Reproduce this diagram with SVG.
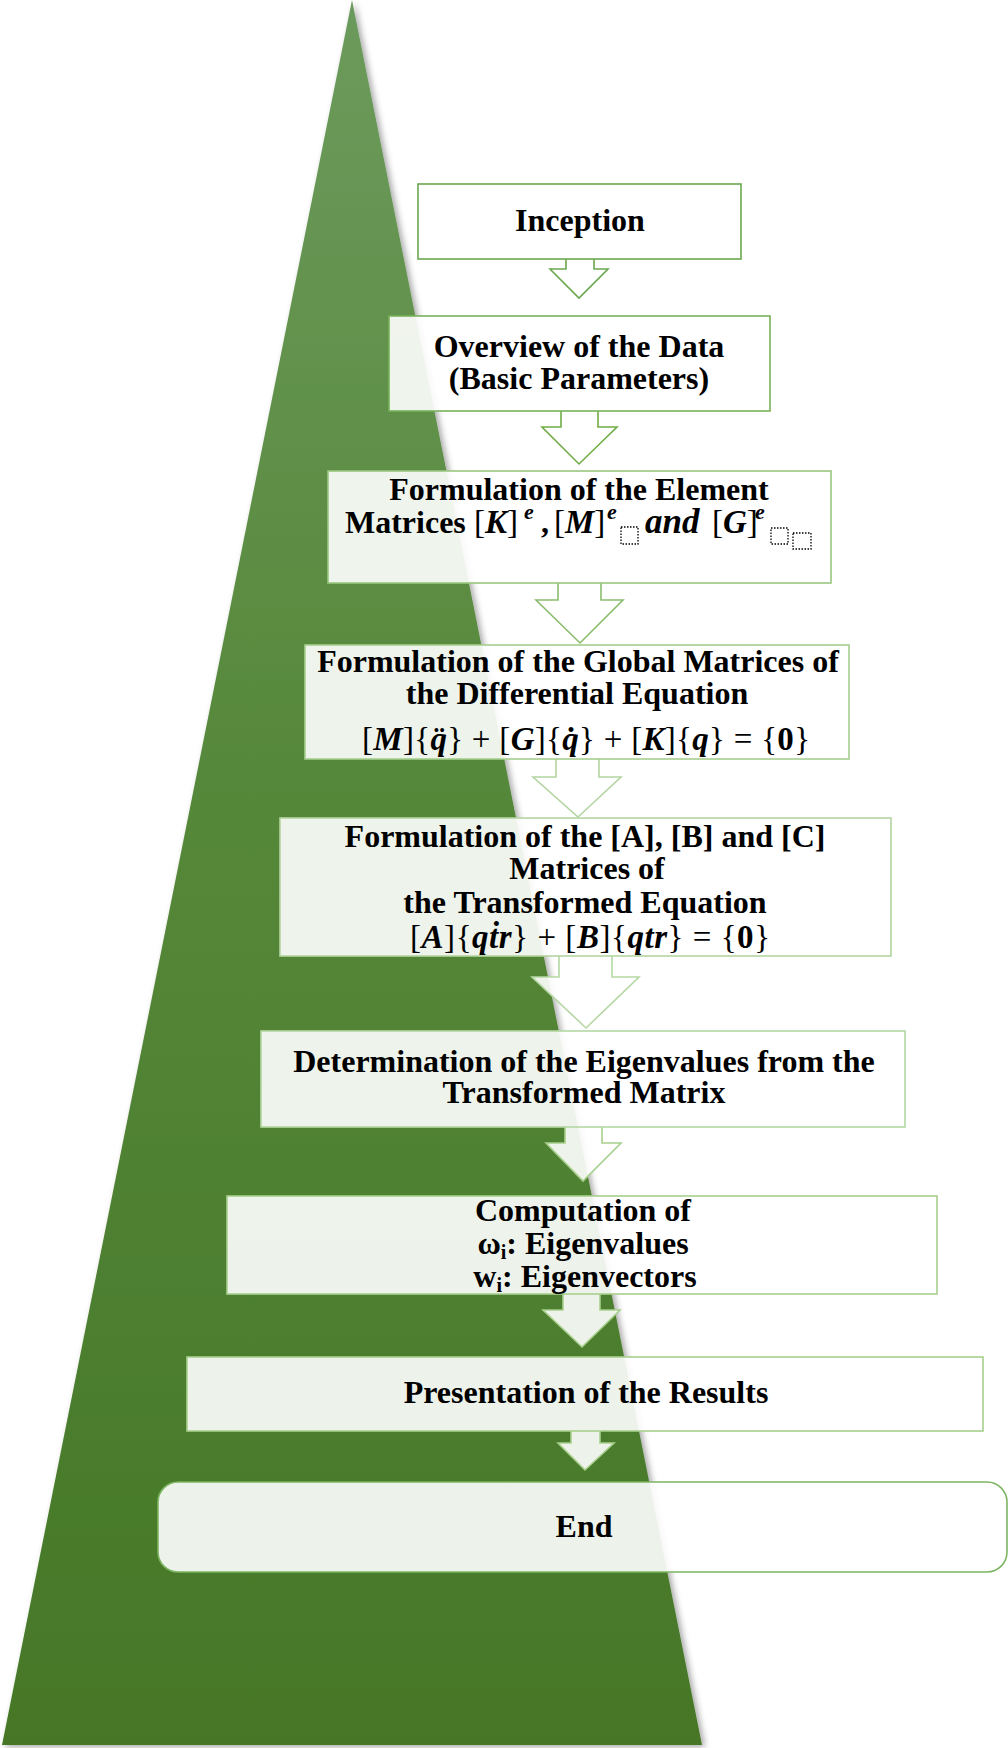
<svg xmlns="http://www.w3.org/2000/svg" width="1008" height="1748" viewBox="0 0 1008 1748">
<defs>
<linearGradient id="tg" x1="0" y1="0" x2="0" y2="1">
<stop offset="0" stop-color="#6c9a5c"/>
<stop offset="0.45" stop-color="#56883a"/>
<stop offset="1" stop-color="#467727"/>
</linearGradient>
<filter id="sh" x="-10%" y="-5%" width="120%" height="110%">
<feDropShadow dx="3" dy="2" stdDeviation="3" flood-color="#000" flood-opacity="0.35"/>
</filter>
<style>
.box{fill:#fff;fill-opacity:0.9;stroke-width:1.6}
.arr{fill:#fff;fill-opacity:0.9;stroke-width:1.6;stroke-linejoin:miter}
.t{font-family:"Liberation Serif","Times New Roman",serif;font-weight:bold;font-size:32px;fill:#000;text-anchor:middle}
.m{font-family:"Liberation Serif","Times New Roman",serif;font-size:33px;fill:#000}
.bi{font-weight:bold;font-style:italic}
.b{font-weight:bold}
.n{font-weight:normal}
.s{text-anchor:start}
.ph{fill:none;stroke:#000;stroke-width:1.3;stroke-dasharray:1.5 1.5}
</style>
</defs>
<rect width="1008" height="1748" fill="#fff"/>
<polygon id="pyramid" points="352,0 702,1745 2,1745" fill="url(#tg)" filter="url(#sh)"/>

<g id="connectors">
<path class="arr" stroke="#6aa84f" d="M566,259 V269 H550 L579,298 L608,269 H594 V259"/>
<path class="arr" stroke="#70ad47" d="M561,411 V427 H542 L579,464 L617,427 H598 V411"/>
<path class="arr" stroke="#8abd6d" d="M558,583 V600 H536 L580,643 L623,600 H601 V583"/>
<path class="arr" stroke="#b3d5a1" d="M556,759 V777 H533 L578,817 L621,777 H599 V759"/>
<path class="arr" stroke="#b5d7a3" d="M559,956 V977 H532 L586,1028 L639,977 H612 V956"/>
<path class="arr" stroke="#a8d08d" d="M565,1127 V1143 H546 L583,1181 L621,1143 H602 V1127"/>
<path class="arr" stroke="#a8d08d" d="M563,1294 V1310 H543 L582,1347 L620,1310 H600 V1294"/>
<path class="arr" stroke="#a8d08d" d="M571,1431 V1443 H558 L585,1470 L614,1443 H600 V1431"/>
</g>

<g id="n1">
<rect class="box" stroke="#6aa84f" x="418" y="184" width="323" height="75"/>
<text class="t" x="580" y="231">Inception</text>
</g>

<g id="n2">
<rect class="box" stroke="#78b25b" x="389" y="316" width="381" height="95"/>
<text class="t" x="579" y="357">Overview of the Data<tspan x="579" dy="32">(Basic Parameters)</tspan></text>
</g>

<g id="n3">
<rect class="box" stroke="#99c77f" x="328" y="471" width="503" height="112"/>
<text class="t" x="579" y="500">Formulation of the Element<tspan class="s" x="345" y="533">Matrices</tspan><tspan class="n s" font-size="33" x="474">[</tspan><tspan class="bi" font-size="33">K</tspan><tspan class="n" font-size="33">]</tspan><tspan class="bi s" x="524" y="519" font-size="22">e</tspan><tspan class="s" x="541" y="533">,</tspan><tspan class="n s" font-size="33" x="554">[</tspan><tspan class="bi" font-size="33">M</tspan><tspan class="n" font-size="33">]</tspan><tspan class="bi s" x="607" y="519" font-size="22">e</tspan><tspan class="bi s" font-size="35" x="645" y="533">and</tspan><tspan class="n s" font-size="33" x="712">[</tspan><tspan class="bi" font-size="33">G</tspan><tspan class="n" font-size="33">]</tspan><tspan class="bi s" x="755" y="519" font-size="22">e</tspan></text>
<rect class="ph" x="621" y="527" width="17" height="17"/>
<rect class="ph" x="771" y="528" width="17" height="16"/>
<rect class="ph" x="793" y="533" width="18" height="16"/>
</g>

<g id="n4">
<rect class="box" stroke="#a6cf8f" x="305" y="645" width="544" height="114"/>
<text class="t" x="578" y="672">Formulation of the Global Matrices of<tspan x="577" dy="32">the Differential Equation</tspan></text>
<text class="m" x="586" y="750" text-anchor="middle" textLength="448" lengthAdjust="spacing">[<tspan class="bi">M</tspan>]{<tspan class="bi">q̈</tspan>} + [<tspan class="bi">G</tspan>]{<tspan class="bi">q̇</tspan>} + [<tspan class="bi">K</tspan>]{<tspan class="bi">q</tspan>} = {<tspan class="b">0</tspan>}</text>
</g>

<g id="n5">
<rect class="box" stroke="#b3d5a1" x="280" y="818" width="611" height="138"/>
<text class="t" x="585" y="847">Formulation of the [A], [B] and [C]<tspan x="587" dy="32">Matrices of</tspan><tspan x="585" dy="34">the Transformed Equation</tspan></text>
<text class="m" x="590" y="948" text-anchor="middle" textLength="360" lengthAdjust="spacing">[<tspan class="bi">A</tspan>]{<tspan class="bi">qṫr</tspan>} + [<tspan class="bi">B</tspan>]{<tspan class="bi">qtr</tspan>} = {<tspan class="b">0</tspan>}</text>
</g>

<g id="n6">
<rect class="box" stroke="#b5d7a3" x="261" y="1031" width="644" height="96"/>
<text class="t" x="584" y="1072">Determination of the Eigenvalues from the<tspan x="584" dy="31">Transformed Matrix</tspan></text>
</g>

<g id="n7">
<rect class="box" stroke="#a8d08d" x="227" y="1196" width="710" height="98"/>
<text class="t" x="583" y="1221">Computation of<tspan x="583" dy="33">ω</tspan><tspan font-size="20" dy="5">i</tspan><tspan dy="-5">: Eigenvalues</tspan><tspan x="585" dy="33">w</tspan><tspan font-size="20" dy="5">i</tspan><tspan dy="-5">: Eigenvectors</tspan></text>
</g>

<g id="n8">
<rect class="box" stroke="#a8d08d" x="187" y="1357" width="796" height="74"/>
<text class="t" x="586" y="1403">Presentation of the Results</text>
</g>

<g id="n9">
<rect class="box" stroke="#7cb561" x="158" y="1482" width="849" height="90" rx="20" ry="20"/>
<text class="t" x="584" y="1537">End</text>
</g>
</svg>
